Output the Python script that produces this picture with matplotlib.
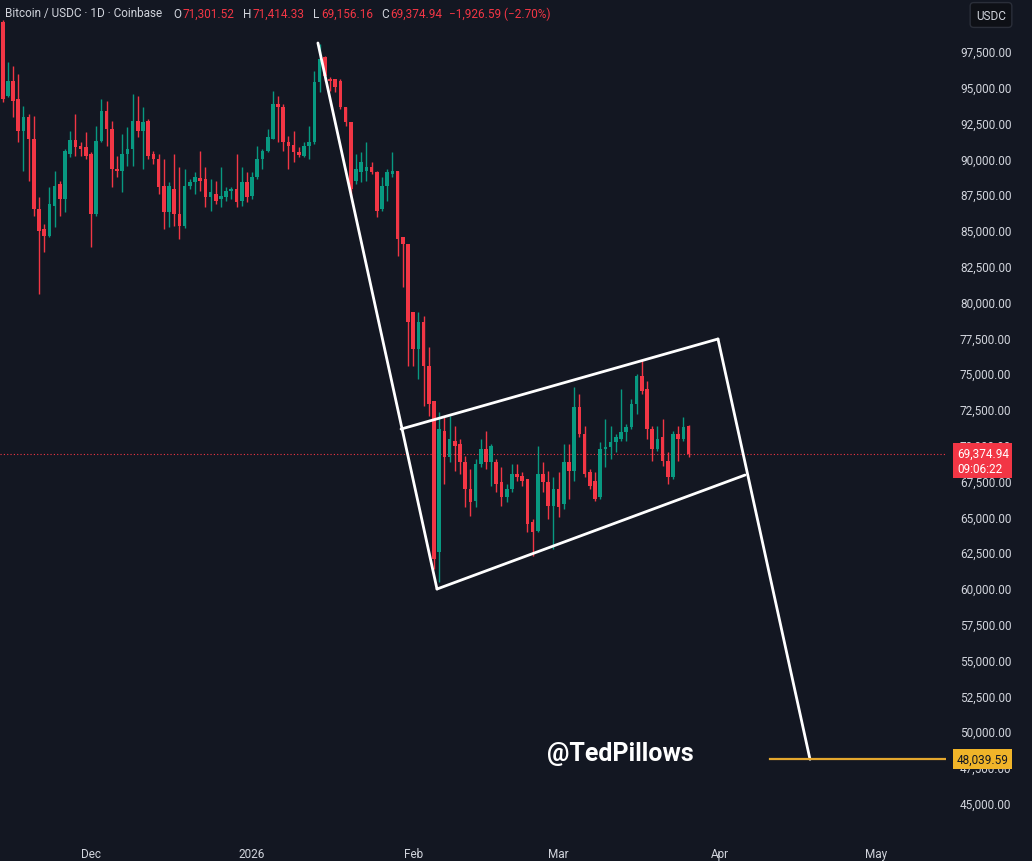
import numpy as np
import pandas as pd
import matplotlib
matplotlib.use("Agg")
import matplotlib.pyplot as plt
import matplotlib.dates as mdates
import matplotlib.transforms as mtransforms

plt.rcParams['font.family'] = ['Roboto', 'DejaVu Sans']

# daily candles, Coinbase BTC/USDC, 2025-11-14 .. 2026-03-26
start = "2025-11-14"
opens = [
    99530, 94360, 95400, 94150, 91910, 92890, 91360, 86470, 85070, 84580,
    86680, 88210, 87170, 90310, 91290, 90870, 90800, 90310, 86120, 91220,
    93310, 92050, 89260, 89120, 90310, 90660, 92610, 91910, 92610, 90310,
    89960, 88070, 86260, 87860, 86120, 85280, 88070, 88350, 88630, 88560,
    87300, 87510, 87170, 87300, 87720, 87860, 87030, 88350, 87370, 88700,
    89960, 90520, 91360, 93800, 93590, 91150, 90940, 90450, 90170, 90870,
    91150, 95340, 97080, 95540, 95540, 95400, 93590, 92540, 88420, 89050,
    89120, 89400, 89050, 86470, 88070, 88910, 89120, 84510, 84020, 79270,
    76690, 78580, 75500, 73060, 62520, 70970, 69150, 70270, 70060, 68800,
    66910, 66080, 68660, 69710, 68800, 68800, 67400, 66360, 66910, 67960,
    67820, 67610, 64610, 63980, 67960, 67400, 65730, 66910, 65870, 68800,
    68170, 72640, 70760, 68100, 67470, 66360, 69710, 69850, 70200, 70410,
    70900, 71240, 72850, 74800, 73900, 71100, 69710, 70550, 68870, 67750,
    70760, 70410, 71301.52]
highs = [
    99660, 96730, 96450, 95890, 93660, 93100, 92960, 87300, 85420, 88000,
    89120, 88420, 90660, 91910, 93100, 91150, 91840, 90450, 92260, 94150,
    94010, 92610, 90170, 91700, 92190, 94500, 94360, 93590, 92750, 90520,
    90310, 89960, 88350, 90310, 89400, 89260, 88560, 89050, 90520, 89400,
    88560, 88420, 89400, 88000, 88000, 90310, 89400, 89050, 89050, 90870,
    90660, 92050, 94710, 94360, 93800, 91560, 91910, 90800, 91150, 92260,
    96100, 97990, 97150, 95680, 95540, 95540, 93590, 92540, 90310, 90450,
    91150, 89750, 89120, 88700, 89260, 90450, 89120, 84510, 84020, 79270,
    79270, 79000, 76830, 73060, 72290, 71940, 72010, 71310, 70410, 69220,
    68310, 69010, 70410, 70970, 70060, 69010, 68450, 67260, 68660, 68660,
    68100, 67610, 64820, 69920, 68800, 68170, 67750, 68100, 70060, 70060,
    74040, 73550, 71310, 68310, 68100, 70200, 71800, 71310, 70760, 73900,
    71450, 73200, 74940, 75990, 74460, 71310, 71310, 71800, 69500, 70970,
    71310, 71940, 71414.33]
lows = [
    93940, 94290, 92890, 91150, 89120, 88420, 85980, 80530, 83460, 84510,
    85210, 85980, 86260, 90100, 90170, 90170, 89960, 83810, 85980, 91150,
    90870, 88000, 88700, 87650, 89470, 89470, 91500, 89260, 89960, 89610,
    87510, 85070, 85210, 85280, 84370, 85140, 87860, 87510, 87720, 86610,
    86330, 86820, 86610, 87030, 87170, 86610, 86680, 86960, 87170, 88560,
    89260, 90450, 91360, 91150, 90520, 89260, 89750, 90100, 90100, 89960,
    91010, 94640, 95400, 94710, 94640, 93450, 92260, 87370, 88210, 88350,
    88420, 88910, 85910, 86330, 87030, 88700, 83190, 81020, 75500, 75500,
    74600, 72710, 72010, 61330, 60400, 67260, 68800, 68170, 67960, 65660,
    65030, 65660, 68450, 68310, 67120, 66700, 65730, 66010, 66700, 67470,
    67120, 63910, 62240, 63910, 66700, 64820, 62720, 64960, 65520, 66220,
    67470, 70550, 67750, 66910, 66080, 66220, 68450, 69010, 69500, 70270,
    70270, 71100, 72150, 73550, 70410, 68870, 69570, 68520, 67260, 67610,
    68870, 70270, 69156.16]
closes = [
    94150, 95400, 94010, 91910, 92890, 91360, 86470, 84930, 84580, 86820,
    88070, 87170, 90520, 91290, 90800, 90660, 90170, 86120, 91220, 93310,
    92050, 89260, 89120, 90310, 90660, 92610, 91910, 92540, 90170, 89960,
    88000, 86260, 88070, 86120, 85280, 88070, 88350, 88700, 88420, 87300,
    87650, 87030, 87370, 87720, 87860, 86960, 88350, 87300, 88700, 89960,
    90520, 91500, 93800, 93590, 91150, 90870, 90450, 90240, 90870, 91150,
    95340, 96940, 95750, 95400, 94990, 93590, 92540, 87860, 89260, 89750,
    89400, 89050, 86330, 88070, 89050, 89120, 84370, 84020, 78580, 76690,
    78580, 75500, 72850, 62030, 71100, 69150, 70410, 69920, 68800, 66910,
    66010, 68660, 69710, 68800, 69920, 67260, 66360, 66910, 67960, 67750,
    67470, 64470, 63910, 67960, 67400, 65730, 66910, 65660, 68800, 68170,
    72640, 70760, 67960, 67120, 66220, 69710, 69850, 70200, 70550, 70900,
    71240, 72850, 74800, 73760, 71100, 69710, 70410, 68870, 67750, 70760,
    70410, 71240, 69374.94]

# drawn trendlines (time, price)
left_leg = [("2026-01-13 16:00", 98060), ("2026-02-05 14:00", 59930)]
flag_top = [("2026-01-29 16:00", 71100), ("2026-03-31 16:00", 77390)]
flag_bottom = [("2026-02-05 14:00", 59930), ("2026-04-05 21:00", 67890)]
right_leg = [("2026-03-31 16:00", 77390), ("2026-04-18 09:00", 48040)]
target_price = 48039.59
target_start = "2026-04-10 17:00"
last_price = 69374.94
countdown = "09:06:22"

month_ticks = ["2025-12-01", "2026-01-01", "2026-02-01", "2026-03-01", "2026-04-01", "2026-05-01"]
month_labels = ["Dec", "2026", "Feb", "Mar", "Apr", "May"]

bg = "#131722"
up = "#089981"
down = "#f23645"
txt = "#d1d4dc"

dates = pd.date_range(start, periods=len(opens))
x = mdates.date2num(dates)
o = np.array(opens); h = np.array(highs); l = np.array(lows); c = np.array(closes)
colors = np.where(c >= o, up, down)

fig = plt.figure(figsize=(10.32, 8.62), dpi=100, facecolor=bg)
ax = fig.add_axes([0, 24 / 862, 946 / 1032, 838 / 862], facecolor=bg)

ax.vlines(x, l, h, colors=colors, linewidth=1.0, zorder=2)
body_lo = np.minimum(o, c)
body_h = np.maximum(np.abs(c - o), 80)
ax.bar(x, body_h, bottom=body_lo, width=0.7, color=colors, linewidth=0, zorder=3)

def line(pts):
    xs = [mdates.date2num(pd.Timestamp(p[0])) for p in pts]
    ys = [p[1] for p in pts]
    ax.plot(xs, ys, color="white", linewidth=2.0, solid_capstyle="round", zorder=4)

line(left_leg)
line(flag_top)
line(flag_bottom)
line(right_leg)

ax.axhline(last_price, color=down, linestyle=(0, (1, 2)), linewidth=0.8, zorder=1)
xmin = mdates.date2num(pd.Timestamp(start)) - 0.52
xmax = mdates.date2num(pd.Timestamp(start)) + 181.55
ax.plot([mdates.date2num(pd.Timestamp(target_start)), xmax], [target_price, target_price],
        color="#e5a82e", linewidth=1.6, zorder=4)

ax.set_xlim(xmin, xmax)
ax.set_ylim(42614, 101131)

yt = np.arange(45000, 97501, 2500)
ax.yaxis.tick_right()
ax.set_yticks(yt)
ax.set_yticklabels([f"{v:,.2f}" for v in yt])
ax.tick_params(axis="y", length=0, pad=10, labelsize=8.5, labelcolor=txt)
ax.set_xticks([mdates.date2num(pd.Timestamp(d)) for d in month_ticks])
ax.set_xticklabels(month_labels)
ax.tick_params(axis="x", length=0, pad=7, labelsize=8.5, labelcolor=txt)
for s in ax.spines.values():
    s.set_visible(False)

trans = mtransforms.blended_transform_factory(ax.transAxes, ax.transData)
ax.annotate(f"{last_price:,.2f}\n{countdown}", xy=(1.0115, last_price), xycoords=trans,
            xytext=(0, -7), textcoords="offset pixels", ha="left", va="center",
            fontsize=8.5, color="white", linespacing=1.2, annotation_clip=False, zorder=10,
            bbox=dict(boxstyle="square,pad=0.3", facecolor=down, edgecolor="none"))
ax.annotate(f"{target_price:,.2f}", xy=(1.0115, target_price), xycoords=trans,
            ha="left", va="center", fontsize=8.5, color="#131722", annotation_clip=False, zorder=10,
            bbox=dict(boxstyle="square,pad=0.3", facecolor="#f0b429", edgecolor="none"))

# header, pieces chained left to right
hy = 1 - 14 / 862
parts = [("Bitcoin / USDC · 1D · Coinbase", txt, 11), ("O", txt, 1), ("71,301.52", down, 9),
         ("H", txt, 1), ("71,414.33", down, 9), ("L", txt, 1), ("69,156.16", down, 9),
         ("C", txt, 1), ("69,374.94", down, 7), ("\u22121,926.59 (\u22122.70%)", down, 0)]
renderer = fig.canvas.get_renderer()
px = 5
for s, col, gap in parts:
    t = fig.text(px / 1032, hy, s, color=col, fontsize=8.5, va="center")
    px = t.get_window_extent(renderer).x1 + gap

fig.text(991 / 1032, 1 - 16 / 862, "USDC", color=txt, fontsize=8.5, ha="center", va="center",
         bbox=dict(boxstyle="round,pad=0.5,rounding_size=0.3", facecolor="#0e1016", edgecolor="#2a2e39"))

fig.text(547 / 1032, 1 - 754 / 862, "@TedPillows", color="white", fontsize=18, fontweight="bold",
         ha="left", va="center")

fig.savefig("out.png", dpi=100, facecolor=bg)
